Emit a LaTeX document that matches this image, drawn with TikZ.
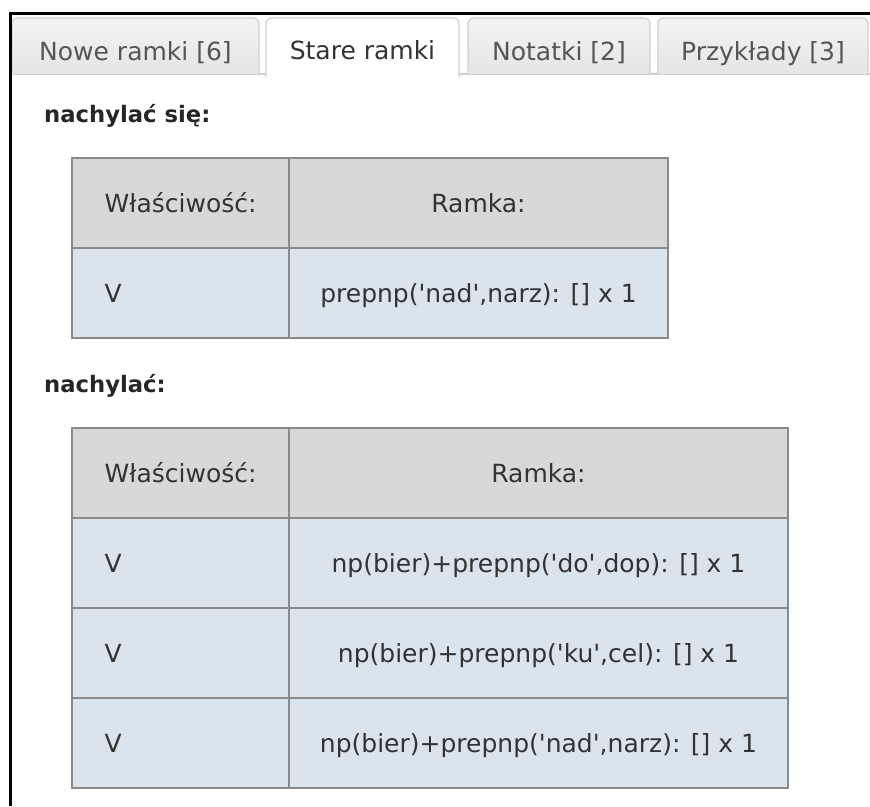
\documentclass[tikz,border=0pt]{standalone}
\usepackage{fontspec}
\setmainfont{DejaVu Sans}
\definecolor{tabtop}{RGB}{244,244,244}
\definecolor{tabbot}{RGB}{229,229,229}
\definecolor{tabborder}{RGB}{208,208,208}
\definecolor{tabline}{RGB}{205,205,205}
\definecolor{headgray}{RGB}{216,216,216}
\definecolor{rowblue}{RGB}{217,228,236}
\definecolor{tblline}{RGB}{138,138,138}
\definecolor{txtcol}{RGB}{51,51,51}
\definecolor{tabtxtcol}{RGB}{85,85,85}
\definecolor{headcol}{RGB}{38,38,38}
\newcommand{\q}{\textquotesingle}
\begin{document}
\begin{tikzpicture}[x=1pt,y=-1pt,
  tabtxt/.style={font=\fontsize{25}{30}\selectfont, text=tabtxtcol, anchor=base, inner sep=0pt},
  headtxt/.style={font=\fontsize{22.7}{27}\selectfont\bfseries, text=headcol, anchor=base west, inner sep=0pt},
  celltxt/.style={font=\fontsize{25}{30}\selectfont, text=txtcol, inner sep=0pt},
  leftcell/.style={celltxt, anchor=base west},
  midcell/.style={celltxt, anchor=base},
  tline/.style={draw=tblline, line width=1.6pt},
  inactivetab/.style={top color=tabtop, bottom color=tabbot, draw=tabborder, line width=1.2pt, rounded corners=5pt},
  activetab/.style={fill=white, draw=tabborder, line width=1.2pt, rounded corners=5pt}]
\useasboundingbox (0,0) rectangle (870,806);
\fill[white] (0,0) rectangle (870,806);

% tab strip
\draw[tabline, line width=2pt] (12,74) -- (870,74);
\shadedraw[inactivetab] (12,74) -- (12,18) -- (259,18) -- (259,74);
\shadedraw[inactivetab] (468,74) -- (468,18) -- (650,18) -- (650,74);
\shadedraw[inactivetab] (658,74) -- (658,18) -- (868,18) -- (868,74);
\filldraw[activetab] (266,77) -- (266,18) -- (459,18) -- (459,77);
\fill[white] (266.6,72) rectangle (458.4,78);

\node[tabtxt] (tab1) at (135.5,60) {Nowe ramki [6]};
\node[tabtxt, text=txtcol] (tab2) at (362.5,59) {Stare ramki};
\node[tabtxt] (tab3) at (559,60) {Notatki [2]};
\node[tabtxt] (tab4) at (763,60) {Przykłady [3]};

% page frame
\draw[black, line width=3.6pt] (10.3,806) -- (10.3,13.3) -- (870,13.3);

% headings
\node[headtxt] (h1) at (44,122) {nachylać się:};
\node[headtxt] (h2) at (44,392) {nachylać:};

% table 1
\fill[headgray] (72,158) rectangle (668,248);
\fill[rowblue] (72,248) rectangle (668,338);
\draw[tline] (72,158) rectangle (668,338);
\draw[tline] (72,248) -- (668,248);
\draw[tline] (289,158) -- (289,338);
\node[leftcell] (a1) at (104.5,212) {Właściwość:};
\node[midcell] (a2) at (478.5,212) {Ramka:};
\node[leftcell] (a3) at (104.5,302) {V};
\node[midcell] (a4) at (478.5,302) {prepnp(\q nad\q,narz): [] x 1};

% table 2
\fill[headgray] (72,428) rectangle (788,518);
\fill[rowblue] (72,518) rectangle (788,788);
\draw[tline] (72,428) rectangle (788,788);
\draw[tline] (72,518) -- (788,518);
\draw[tline] (72,608) -- (788,608);
\draw[tline] (72,698) -- (788,698);
\draw[tline] (289,428) -- (289,788);
\node[leftcell] (b1) at (104.5,482) {Właściwość:};
\node[midcell] (b2) at (538.5,482) {Ramka:};
\node[leftcell] (b3) at (104.5,572) {V};
\node[midcell] (b4) at (538.5,572) {np(bier)+prepnp(\q do\q,dop): [] x 1};
\node[leftcell] (b5) at (104.5,662) {V};
\node[midcell] (b6) at (538.5,662) {np(bier)+prepnp(\q ku\q,cel): [] x 1};
\node[leftcell] (b7) at (104.5,752) {V};
\node[midcell] (b8) at (538.5,752) {np(bier)+prepnp(\q nad\q,narz): [] x 1};
\end{tikzpicture}
\end{document}
